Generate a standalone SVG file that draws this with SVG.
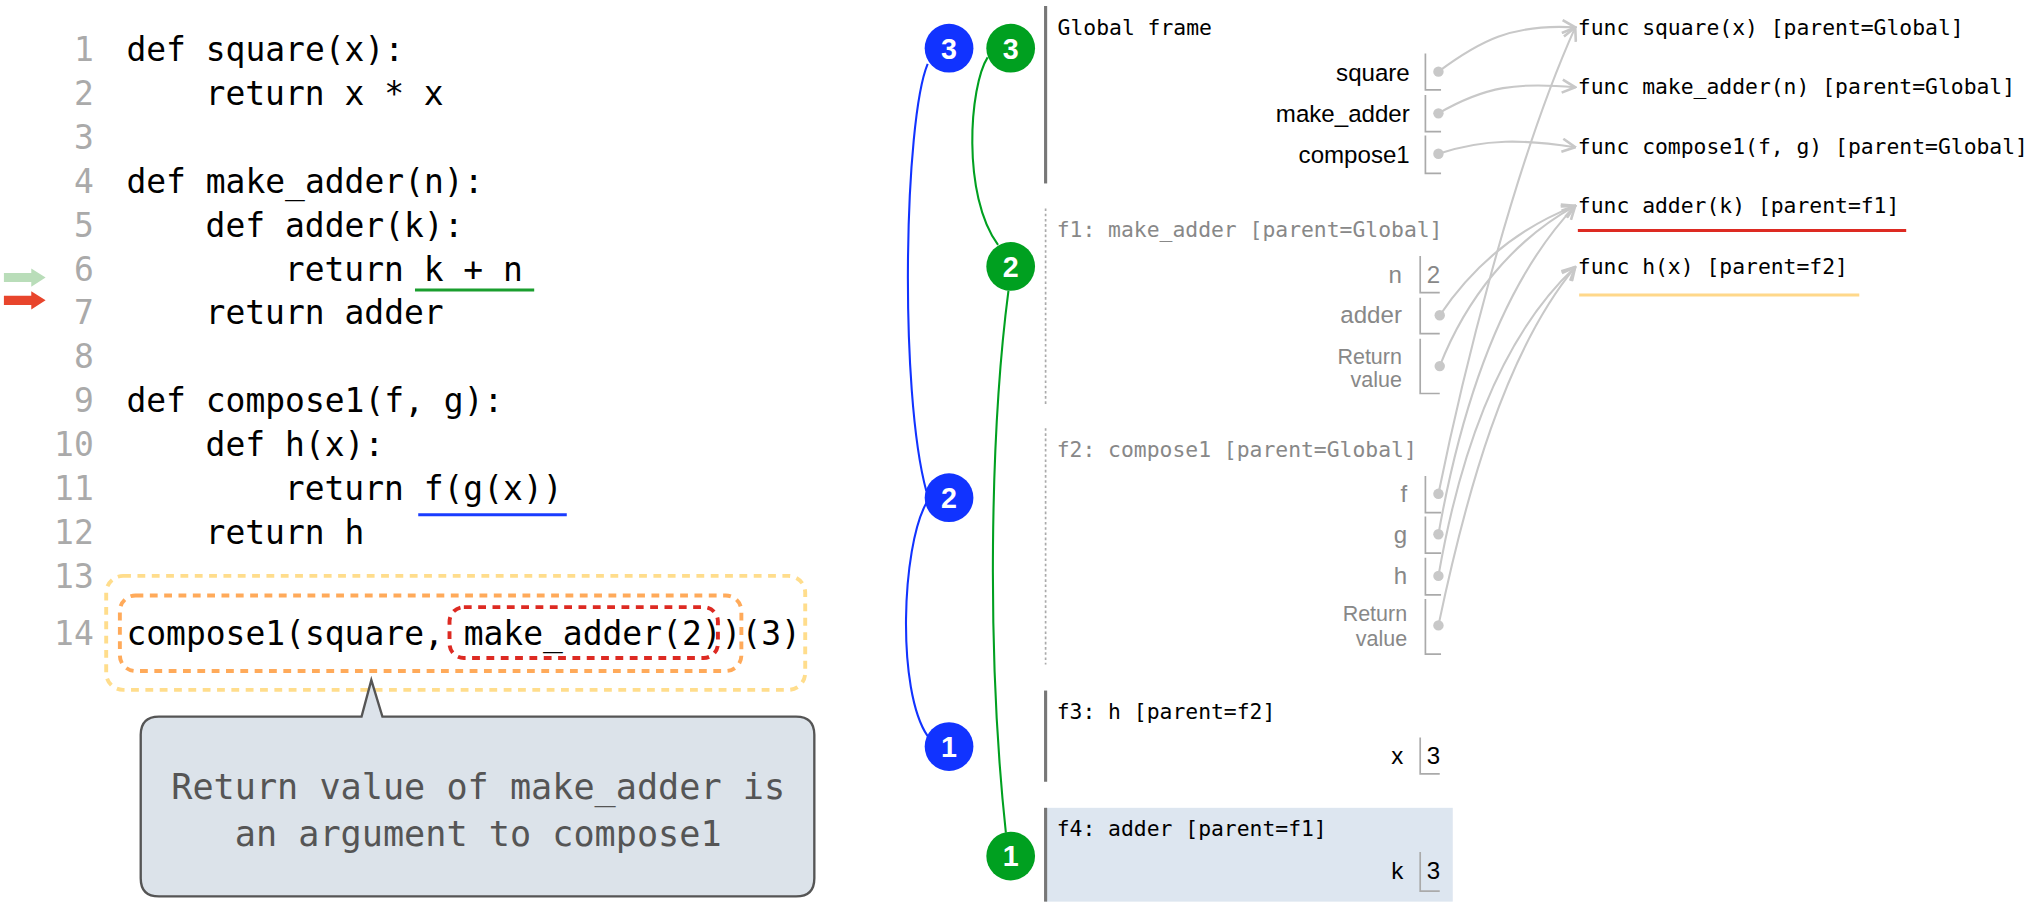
<svg xmlns="http://www.w3.org/2000/svg" width="2043" height="906" viewBox="0 0 2043 906">
<style>
.code{font-family:"DejaVu Sans Mono","Liberation Mono",monospace;font-size:25.3px;fill:#000}
.ln{font-family:"DejaVu Sans Mono","Liberation Mono",monospace;font-size:25.3px;fill:#aaa;text-anchor:end}
.mono{font-family:"DejaVu Sans Mono","Liberation Mono",monospace;font-size:16.4px;fill:#000}
.monog{font-family:"DejaVu Sans Mono","Liberation Mono",monospace;font-size:16.4px;fill:#888}
.lab{font-family:"Liberation Sans","DejaVu Sans",sans-serif;font-size:18.5px;fill:#000;text-anchor:end}
.labg{font-family:"Liberation Sans","DejaVu Sans",sans-serif;font-size:18.5px;fill:#888;text-anchor:end}
.rv{font-family:"Liberation Sans","DejaVu Sans",sans-serif;font-size:16.5px;fill:#888;text-anchor:end}
.val{font-family:"Liberation Sans","DejaVu Sans",sans-serif;font-size:18.5px;fill:#000}
.valg{font-family:"Liberation Sans","DejaVu Sans",sans-serif;font-size:18.5px;fill:#888}
.brk{fill:none;stroke:#aaa;stroke-width:1.3}
.dot{fill:#c8c8c8}
.ptr{fill:none;stroke:#c8c8c8;stroke-width:1.6;marker-end:url(#ah)}
.bar{stroke:#777;stroke-width:2.4}
.dotted{stroke:#aaa;stroke-width:1.3;stroke-dasharray:2 2}
.cb{fill:#1133ff}
.cg{fill:#00a020}
.ct{font-family:"Liberation Sans","DejaVu Sans",sans-serif;font-size:22px;font-weight:bold;fill:#fff;text-anchor:middle}
.lb{fill:none;stroke:#1133ff;stroke-width:1.6}
.lg{fill:none;stroke:#00a020;stroke-width:1.6}
.callt{font-family:"DejaVu Sans Mono","Liberation Mono",monospace;font-size:27px;fill:#555;text-anchor:middle}
</style>
<defs>
<marker id="ah" markerUnits="userSpaceOnUse" viewBox="0 0 12 12" refX="11" refY="6" markerWidth="12" markerHeight="12" orient="auto">
<path d="M1,1 L11,6 L1,11" fill="none" stroke="#c8c8c8" stroke-width="2"/>
</marker>
</defs>
<g transform="scale(1.30293)">
<g id="code">
<text class="ln" x="72" y="47">1</text>
<text class="ln" x="72" y="80.7">2</text>
<text class="ln" x="72" y="114.3">3</text>
<text class="ln" x="72" y="148">4</text>
<text class="ln" x="72" y="181.7">5</text>
<text class="ln" x="72" y="215.4">6</text>
<text class="ln" x="72" y="249">7</text>
<text class="ln" x="72" y="282.7">8</text>
<text class="ln" x="72" y="316.4">9</text>
<text class="ln" x="72" y="350">10</text>
<text class="ln" x="72" y="383.7">11</text>
<text class="ln" x="72" y="417.4">12</text>
<text class="ln" x="72" y="451">13</text>
<text class="ln" x="72" y="495">14</text>
<text class="code" x="97" y="47">def square(x):</text>
<text class="code" x="157.8" y="80.7">return x * x</text>
<text class="code" x="97" y="148">def make_adder(n):</text>
<text class="code" x="157.8" y="181.7">def adder(k):</text>
<text class="code" x="218.6" y="215.4">return k + n</text>
<text class="code" x="157.8" y="249">return adder</text>
<text class="code" x="97" y="316.4">def compose1(f, g):</text>
<text class="code" x="157.8" y="350">def h(x):</text>
<text class="code" x="218.6" y="383.7">return f(g(x))</text>
<text class="code" x="157.8" y="417.4">return h</text>
<text class="code" x="97" y="495">compose1(square, make_adder(2))(3)</text>
<line x1="318.5" y1="222.6" x2="410" y2="222.6" stroke="#1a9e2e" stroke-width="2.3"/>
<line x1="321" y1="395" x2="435" y2="395" stroke="#1a3cff" stroke-width="2.3"/>
<path d="M3,209.5 H24 V206 L35,213 L24,220 V216.5 H3 Z" fill="#b9ddb9"/>
<path d="M3,227 H24 V223.5 L35,230.5 L24,237.5 V234 H3 Z" fill="#e8452c"/>
<rect x="81.5" y="442" width="536.5" height="87.5" rx="13" fill="none" stroke="#ffdd8c" stroke-width="3" stroke-dasharray="6 5"/>
<rect x="92" y="457" width="477" height="58" rx="12" fill="none" stroke="#ffaa5a" stroke-width="3" stroke-dasharray="6 5"/>
<rect x="345" y="466" width="206" height="39" rx="11" fill="none" stroke="#dd2a22" stroke-width="3" stroke-dasharray="6 5"/>
</g>
<g id="callout">
<path d="M122,550 H277.5 L285,522 L293.5,550 H611 Q625,550 625,564 V674 Q625,688 611,688 H122 Q108,688 108,674 V564 Q108,550 122,550 Z" fill="#dce3ea" stroke="#555" stroke-width="1.8"/>
<text class="callt" x="367" y="613">Return value of make_adder is</text>
<text class="callt" x="367" y="649">an argument to compose1</text>
</g>
<g id="connectors">
<path class="lb" d="M712,49 C694,92 690,300 711,377"/>
<path class="lb" d="M711,386 C692,420 688,530 712,565"/>
<path class="lg" d="M758,44 C744,66 738,150 766,188"/>
<path class="lg" d="M774,223 C760,330 757,500 772,639"/>
<path class="ptr" d="M1104,55 C1135,32 1160,18 1209,21"/>
<path class="ptr" d="M1104,87 C1140,66 1165,63 1209,67"/>
<path class="ptr" d="M1104,118 C1140,106 1170,107 1209,113"/>
<path class="ptr" d="M1105,242 C1130,205 1165,175 1209,158"/>
<path class="ptr" d="M1105,281 C1125,230 1160,185 1209,158"/>
<path class="ptr" d="M1104,379 C1120,300 1160,130 1209,21"/>
<path class="ptr" d="M1104,410 C1120,320 1150,220 1209,158"/>
<path class="ptr" d="M1104,442 C1120,350 1150,260 1209,205"/>
<path class="ptr" d="M1104,480 C1125,380 1155,270 1209,205"/>
</g>
<g id="steps">
<g id="b3"><circle class="cb" cx="728.4" cy="37" r="18.7"/><text class="ct" x="728.4" y="45">3</text></g>
<g id="g3"><circle class="cg" cx="775.7" cy="37" r="18.7"/><text class="ct" x="775.7" y="45">3</text></g>
<g id="g2"><circle class="cg" cx="775.7" cy="204.5" r="18.7"/><text class="ct" x="775.7" y="212.5">2</text></g>
<g id="b2"><circle class="cb" cx="728.4" cy="382" r="18.7"/><text class="ct" x="728.4" y="390">2</text></g>
<g id="b1"><circle class="cb" cx="728.4" cy="573" r="18.7"/><text class="ct" x="728.4" y="581">1</text></g>
<g id="g1"><circle class="cg" cx="775.7" cy="657" r="18.7"/><text class="ct" x="775.7" y="665">1</text></g>
</g>
<g id="global">
<line class="bar" x1="802.5" y1="4.6" x2="802.5" y2="140.8"/>
<text class="mono" x="811.7" y="26.5">Global frame</text>
<text class="lab" x="1082" y="62">square</text>
<path class="brk" d="M1094,41 V69 H1106"/><circle class="dot" cx="1104" cy="55" r="4"/>
<text class="lab" x="1082" y="94">make_adder</text>
<path class="brk" d="M1094,73 V101 H1106"/><circle class="dot" cx="1104" cy="87" r="4"/>
<text class="lab" x="1082" y="125">compose1</text>
<path class="brk" d="M1094,104 V133 H1106"/><circle class="dot" cx="1104" cy="118" r="4"/>
</g>
<g id="f1">
<line class="dotted" x1="802.5" y1="160" x2="802.5" y2="310"/>
<text class="monog" x="811" y="182">f1: make_adder [parent=Global]</text>
<text class="labg" x="1076" y="217.5">n</text>
<path class="brk" d="M1090,196.5 V224.6 H1105"/><text class="valg" x="1095" y="217.5">2</text>
<text class="labg" x="1076" y="248">adder</text>
<path class="brk" d="M1090,228.5 V256 H1105"/><circle class="dot" cx="1105" cy="242" r="4"/>
<text class="rv" x="1076" y="279">Return</text>
<text class="rv" x="1076" y="297">value</text>
<path class="brk" d="M1090,260 V302 H1105"/><circle class="dot" cx="1105" cy="281" r="4"/>
</g>
<g id="f2">
<line class="dotted" x1="802.5" y1="328.6" x2="802.5" y2="510"/>
<text class="monog" x="811" y="351">f2: compose1 [parent=Global]</text>
<text class="labg" x="1080" y="385.5">f</text>
<path class="brk" d="M1094,365.3 V393.5 H1106"/><circle class="dot" cx="1104" cy="379" r="4"/>
<text class="labg" x="1080" y="416.5">g</text>
<path class="brk" d="M1094,396.5 V424.5 H1106"/><circle class="dot" cx="1104" cy="410" r="4"/>
<text class="labg" x="1080" y="448.5">h</text>
<path class="brk" d="M1094,428 V456.6 H1106"/><circle class="dot" cx="1104" cy="442" r="4"/>
<text class="rv" x="1080" y="477">Return</text>
<text class="rv" x="1080" y="496">value</text>
<path class="brk" d="M1094,459.8 V502 H1106"/><circle class="dot" cx="1104" cy="480" r="4"/>
</g>
<g id="f3">
<line class="bar" x1="802.5" y1="530" x2="802.5" y2="600"/>
<text class="mono" x="811" y="551.5">f3: h [parent=f2]</text>
<text class="lab" x="1077" y="586.5">x</text>
<path class="brk" d="M1090,566 V594 H1105"/><text class="val" x="1095" y="586.5">3</text>
</g>
<g id="f4">
<rect x="802.5" y="620" width="312.5" height="72" fill="#dde6f0"/>
<line class="bar" x1="802.5" y1="620" x2="802.5" y2="692"/>
<text class="mono" x="811" y="641.5">f4: adder [parent=f1]</text>
<text class="lab" x="1077" y="674.5">k</text>
<path class="brk" d="M1090,654 V684 H1105"/><text class="val" x="1095" y="674.5">3</text>
</g>
<g id="objects">
<g id="o-square"><text class="mono" x="1211" y="26.5">func square(x) [parent=Global]</text></g>
<g id="o-make_adder"><text class="mono" x="1211" y="72.5">func make_adder(n) [parent=Global]</text></g>
<g id="o-compose1"><text class="mono" x="1211" y="118.5">func compose1(f, g) [parent=Global]</text></g>
<g id="o-adder"><text class="mono" x="1211" y="163.5">func adder(k) [parent=f1]</text>
<line x1="1211" y1="177" x2="1463" y2="177" stroke="#dd2a22" stroke-width="2.3"/></g>
<g id="o-h"><text class="mono" x="1211" y="210.5">func h(x) [parent=f2]</text>
<line x1="1212" y1="226.5" x2="1427" y2="226.5" stroke="#ffd88a" stroke-width="2.3"/></g>
</g>
</g>
</svg>
